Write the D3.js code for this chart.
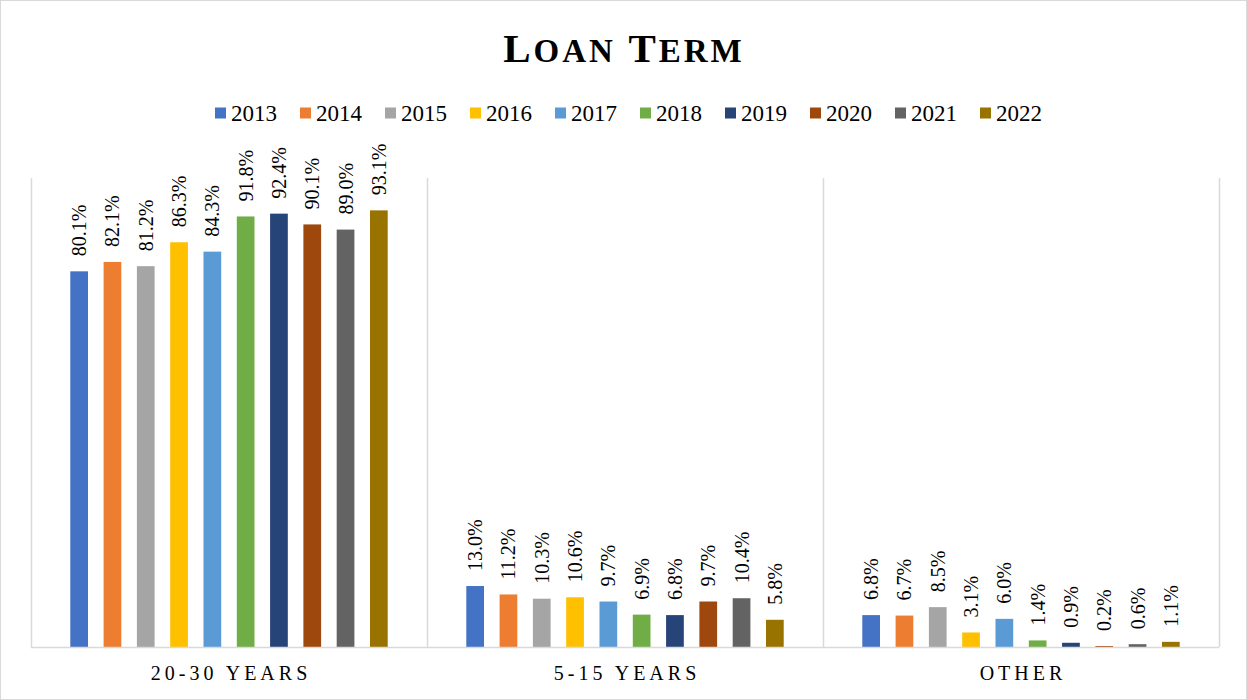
<!DOCTYPE html>
<html>
<head>
<meta charset="utf-8">
<script src="https://cdn.jsdelivr.net/npm/d3@7"></script>
<style>
  html, body { margin: 0; padding: 0; background: #fff; }
  svg { display: block; }
  svg text { font-family: "Liberation Serif", "Times New Roman", serif !important; }
</style>
</head>
<body>
<svg id="chart" width="1247" height="700"></svg>
<script>
const categories = ["20-30 YEARS", "5-15 YEARS", "OTHER"];
const years = ["2013", "2014", "2015", "2016", "2017", "2018", "2019", "2020", "2021", "2022"];
const colors = ["#4472C4", "#ED7D31", "#A5A5A5", "#FFC000", "#5B9BD5", "#70AD47", "#264478", "#9E480E", "#636363", "#997300"];
const values2030 = [80.1, 82.1, 81.2, 86.3, 84.3, 91.8, 92.4, 90.1, 89.0, 93.1];
const values515 = [13.0, 11.2, 10.3, 10.6, 9.7, 6.9, 6.8, 9.7, 10.4, 5.8];
const valuesOther = [6.8, 6.7, 8.5, 3.1, 6.0, 1.4, 0.9, 0.2, 0.6, 1.1];
const seriesByCategory = [values2030, values515, valuesOther];

const FONT = "Liberation Serif, Times New Roman, serif";
const svg = d3.select("#chart");
const W = 1247, H = 700;
const plot = { left: 31, right: 1219, top: 178, bottom: 647 };

// outer border
svg.append("rect").attr("x", 0.5).attr("y", 0.5).attr("width", W - 1).attr("height", H - 1)
  .attr("fill", "#fff").attr("stroke", "#d9d9d9").attr("stroke-width", 1);

// title with small caps
const title = svg.append("text").attr("x", 624).attr("y", 62).attr("text-anchor", "middle")
  .attr("font-family", FONT)
  .attr("font-weight", "bold").attr("fill", "#000").attr("letter-spacing", 3);
[["L", 41], ["OAN", 33], [" ", 41], ["T", 41], ["ERM", 33]].forEach(([t, s]) => {
  title.append("tspan").attr("font-size", s).text(t);
});

// scales
const x0 = d3.scaleBand().domain(categories).range([plot.left, plot.right]).padding(0);
const x1 = d3.scaleBand().domain(years).range([0, x0.bandwidth()]).paddingInner(0.468).paddingOuter(1.18);
const y = d3.scaleLinear().domain([0, 100]).range([plot.bottom, plot.top]);

// vertical gridlines at category boundaries
const bounds = categories.map(c => x0(c)).concat([plot.right]);
svg.append("g").selectAll("line").data(bounds).join("line")
  .attr("x1", d => Math.round(d) + 0.5).attr("x2", d => Math.round(d) + 0.5)
  .attr("y1", plot.top).attr("y2", plot.bottom)
  .attr("stroke", "#d9d9d9").attr("stroke-width", 1.5);

// bars
const groups = svg.append("g").selectAll("g").data(categories).join("g")
  .attr("transform", c => `translate(${x0(c)},0)`);

groups.each(function (c, ci) {
  const g = d3.select(this);
  const data = years.map((yr, i) => ({ yr, v: seriesByCategory[ci][i], color: colors[i] }));
  g.selectAll("rect").data(data).join("rect")
    .attr("x", d => x1(d.yr)).attr("width", x1.bandwidth())
    .attr("y", d => y(d.v)).attr("height", d => y(0) - y(d.v))
    .attr("fill", d => d.color);
  g.selectAll("text").data(data).join("text")
    .attr("transform", d => `translate(${x1(d.yr) + x1.bandwidth() / 2},${y(d.v) - 15}) rotate(-90)`)
    .attr("dy", "0.35em")
    .attr("font-family", FONT)
    .attr("font-size", 20).attr("fill", "#000")
    .text(d => d.v.toFixed(1) + "%");
});

// x axis baseline
svg.append("line").attr("x1", plot.left).attr("x2", plot.right)
  .attr("y1", plot.bottom + 0.5).attr("y2", plot.bottom + 0.5)
  .attr("stroke", "#d9d9d9").attr("stroke-width", 1.5);

// category labels
const xAxis = d3.axisBottom(x0).tickSize(0).tickPadding(0);
const axisG = svg.append("g").attr("transform", `translate(0,${plot.bottom})`).call(xAxis)
  .attr("font-family", FONT);
axisG.select(".domain").remove();
axisG.selectAll("text")
  .attr("y", 33).attr("dy", 0)
  .attr("dx", 2)
  .attr("font-family", FONT)
  .attr("font-size", 20).attr("letter-spacing", 4).attr("fill", "#000");

// legend
const legend = svg.append("g").attr("font-family", FONT);
const li = legend.selectAll("g").data(years).join("g")
  .attr("transform", (d, i) => `translate(${215 + i * 85},0)`);
li.append("rect").attr("x", 0).attr("y", 107.5).attr("width", 11).attr("height", 11)
  .attr("fill", (d, i) => colors[i]);
li.append("text").attr("x", 16).attr("y", 121).attr("font-family", FONT)
  .attr("font-size", 23).attr("fill", "#000").text(d => d);
</script>
</body>
</html>
